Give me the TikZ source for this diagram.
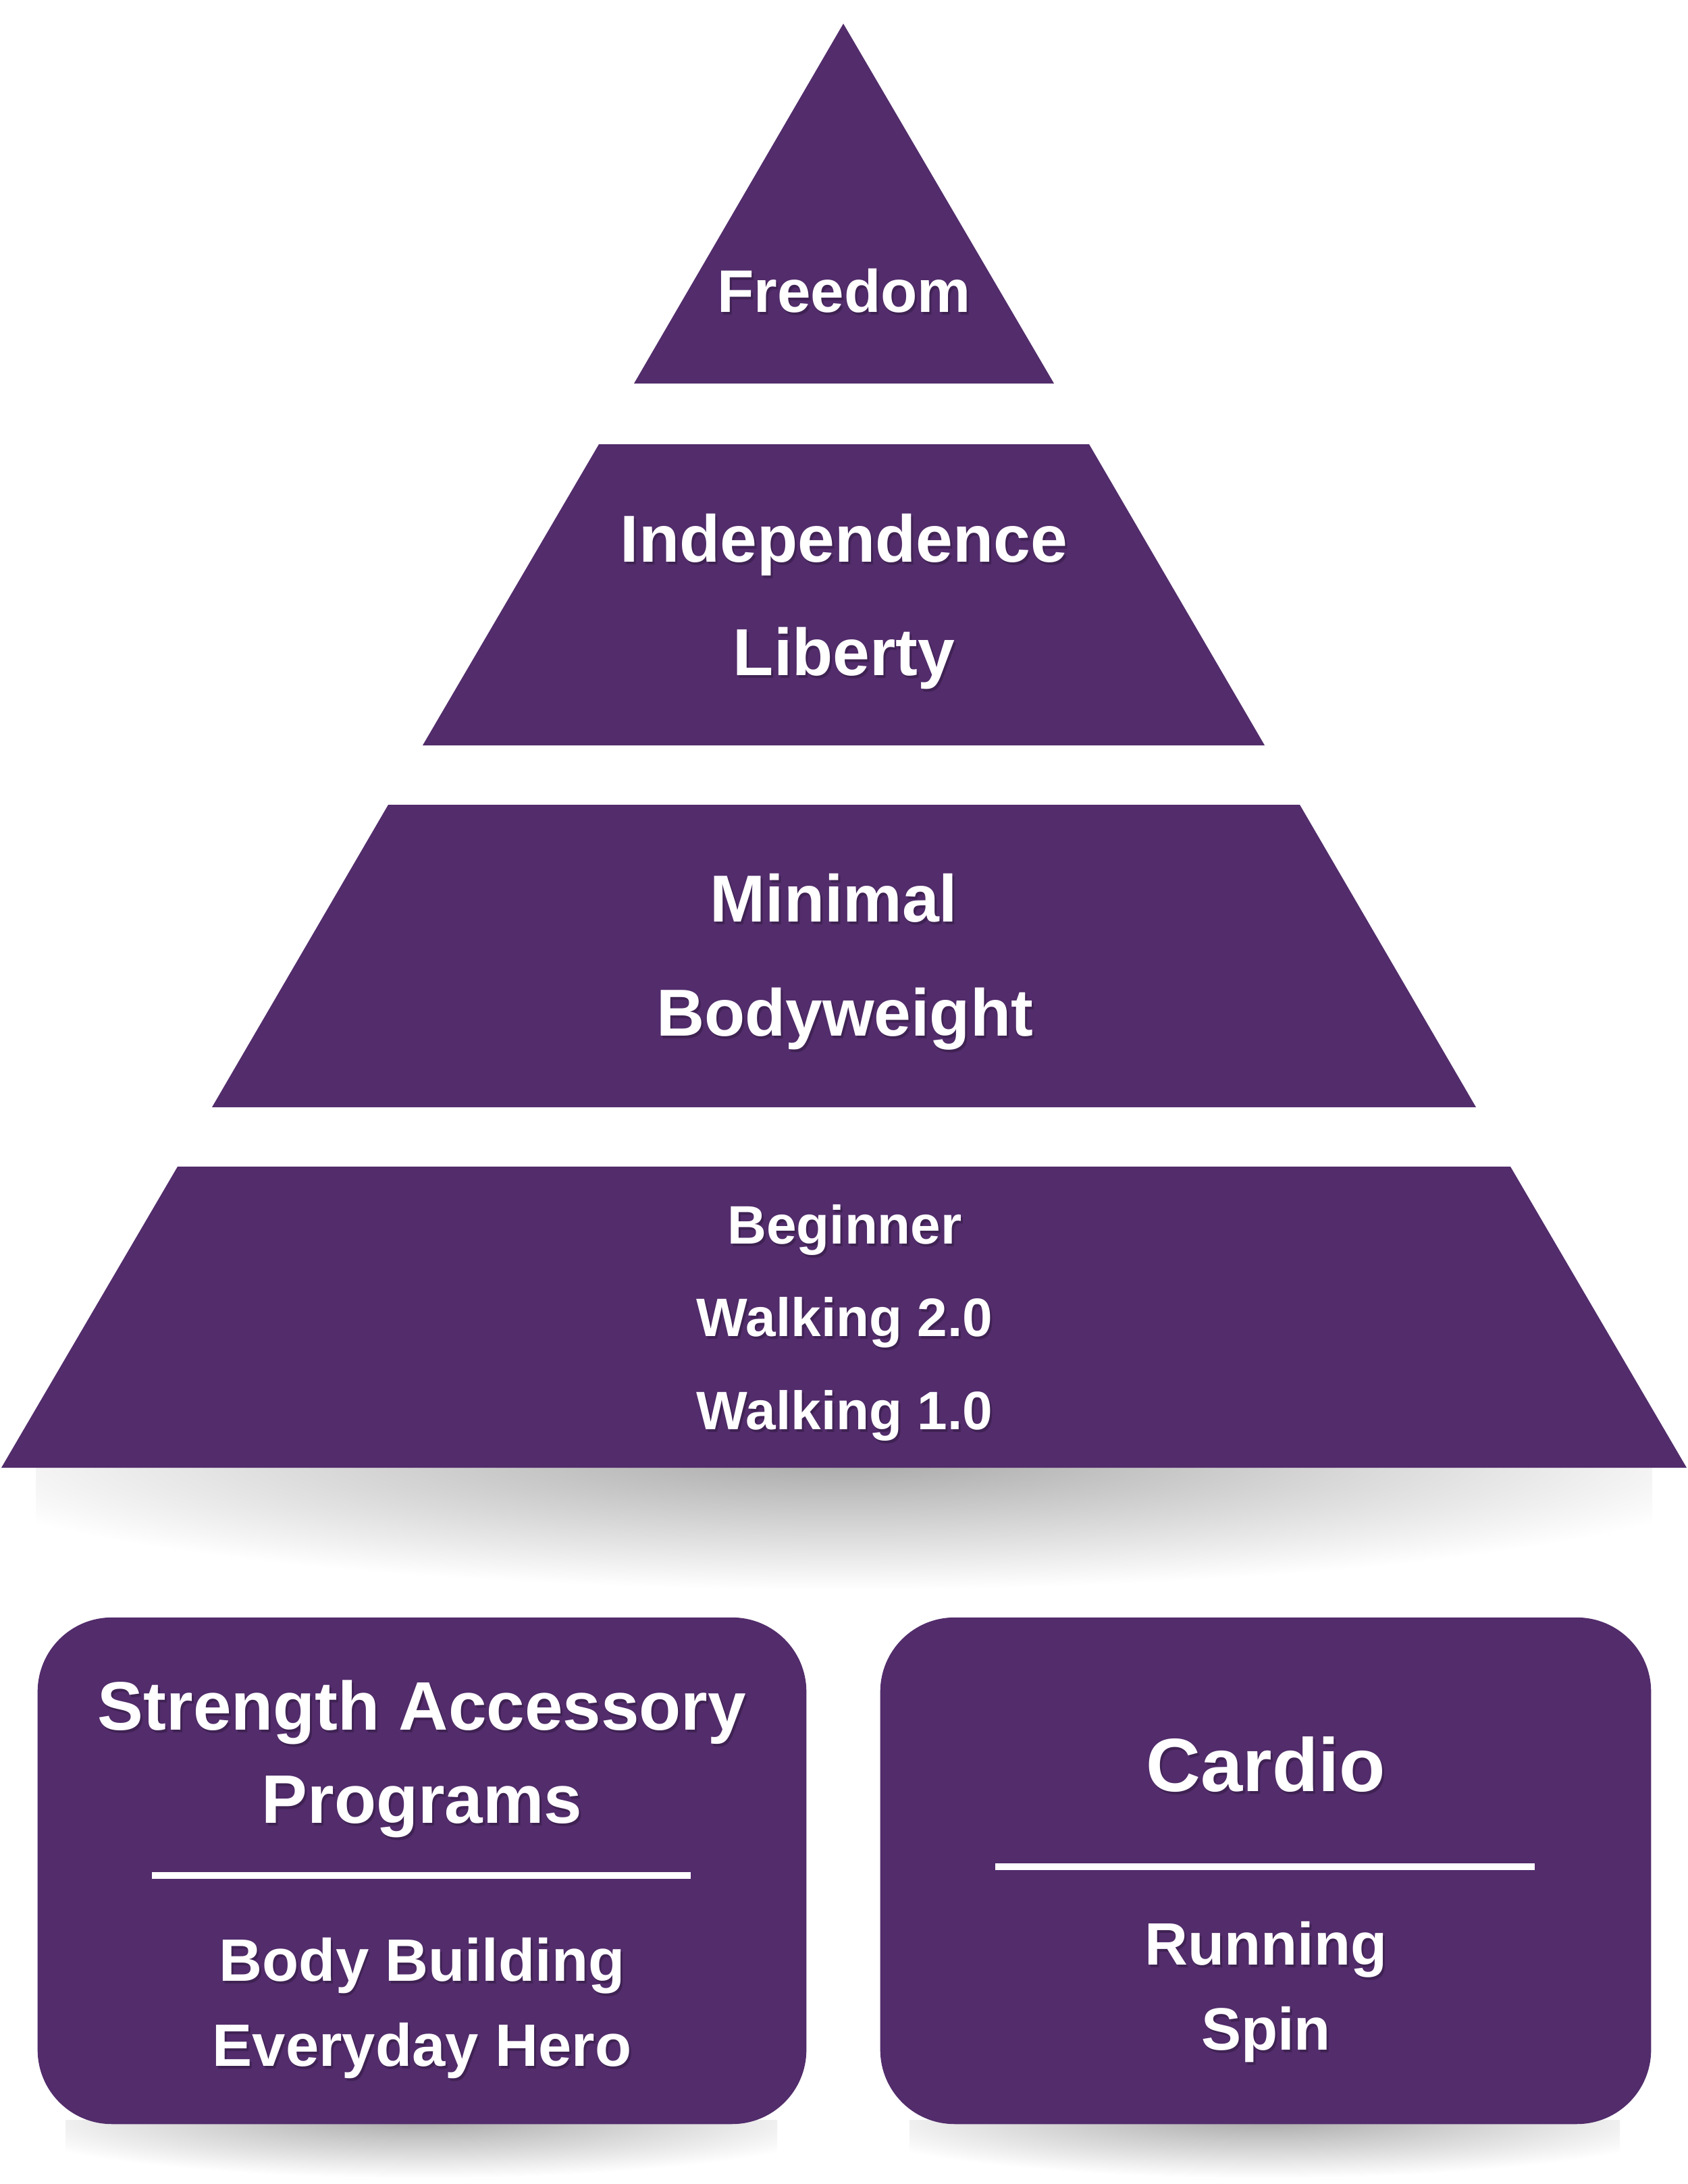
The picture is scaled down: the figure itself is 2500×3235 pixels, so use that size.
\documentclass[tikz,border=0pt]{standalone}
\usepackage{fontspec}
\setmainfont{Liberation Sans}
\usetikzlibrary{calc}
\definecolor{purp}{RGB}{82,44,107}
\newcommand\fsFree{\fontsize{25.3pt}{30pt}\selectfont\bfseries}
\newcommand\fsMid{\fontsize{28pt}{33pt}\selectfont\bfseries}
\newcommand\fsLow{\fontsize{22.8pt}{27pt}\selectfont\bfseries}
\newcommand\fsHead{\fontsize{28.9pt}{34pt}\selectfont\bfseries}
\newcommand\fsCardio{\fontsize{31.8pt}{37pt}\selectfont\bfseries}
\newcommand\fsItem{\fontsize{25.2pt}{30pt}\selectfont\bfseries}
\tikzset{
  band/.style={fill=purp, draw=none},
  box/.style={fill=purp, draw=none, rounded corners=1.1cm, inner sep=0pt},
  lbl/.style={text=white, anchor=base, inner sep=0pt},
  lblsh/.style={text=black, opacity=0.22, anchor=base, inner sep=0pt},
  divider/.style={draw=white, line width=3.1pt},
  shadowfill/.style={inner color=black!34, outer color=white},
}
\newcommand\lbl[4]{%
  \node[lblsh, font=#3] at ($(#1)+(3,4)$) {#4};
  \node[lbl, font=#3] (#2) at (#1) {#4};}
\begin{document}
\begin{tikzpicture}[x=0.01cm, y=-0.01cm]
\useasboundingbox (0,0) rectangle (2500,3235);
% shadows
\begin{scope}
  \clip (53,2174) rectangle (2447,2420);
  \shade[shadowfill] (1250,2160) ellipse [x radius=1380, y radius=195];
\end{scope}
\begin{scope}
  \clip (97,3140) rectangle (1151,3235);
  \shade[shadowfill] (625,3138) ellipse [x radius=640, y radius=88];
\end{scope}
\begin{scope}
  \clip (1347,3140) rectangle (2399,3235);
  \shade[shadowfill] (1873,3138) ellipse [x radius=640, y radius=88];
\end{scope}
% pyramid
\fill[band] (1249,35) -- (1561,568) -- (939,568) -- cycle;
\fill[band] (887,658) -- (1613,658) -- (1873,1104) -- (626,1104) -- cycle;
\fill[band] (575,1192) -- (1925,1192) -- (2186,1640) -- (314,1640) -- cycle;
\fill[band] (263,1728) -- (2237,1728) -- (2498,2174) -- (2,2174) -- cycle;
\lbl{1250,462}{free}{\fsFree}{Freedom}
\lbl{1250,832}{indep}{\fsMid}{Independence}
\lbl{1250,1000}{lib}{\fsMid}{Liberty}
\lbl{1235,1365}{mini}{\fsMid}{Minimal}
\lbl{1251,1534}{bodyw}{\fsMid}{Bodyweight}
\lbl{1251,1842}{beg}{\fsLow}{Beginner}
\lbl{1251,1979}{walkb}{\fsLow}{Walking 2.0}
\lbl{1251,2117}{walka}{\fsLow}{Walking 1.0}
% boxes
\node[box, minimum width=11.38cm, minimum height=7.5cm] (lbox) at (625,2771) {};
\node[box, minimum width=11.41cm, minimum height=7.5cm] (rbox) at (1874.5,2771) {};
\lbl{625,2562}{str}{\fsHead}{Strength Accessory}
\lbl{625,2700}{prog}{\fsHead}{Programs}
\coordinate (l1) at (225,2778);
\coordinate (l2) at (1023,2778);
\draw[divider] (l1) -- (l2);
\lbl{625,2934}{bb}{\fsItem}{Body Building}
\lbl{625,3060}{eh}{\fsItem}{Everyday Hero}
\lbl{1875,2653}{cardio}{\fsCardio}{Cardio}
\coordinate (r1) at (1474,2765);
\coordinate (r2) at (2273,2765);
\draw[divider] (r1) -- (r2);
\lbl{1875,2910}{run}{\fsItem}{Running}
\lbl{1875,3036}{spin}{\fsItem}{Spin}
\end{tikzpicture}
\end{document}
